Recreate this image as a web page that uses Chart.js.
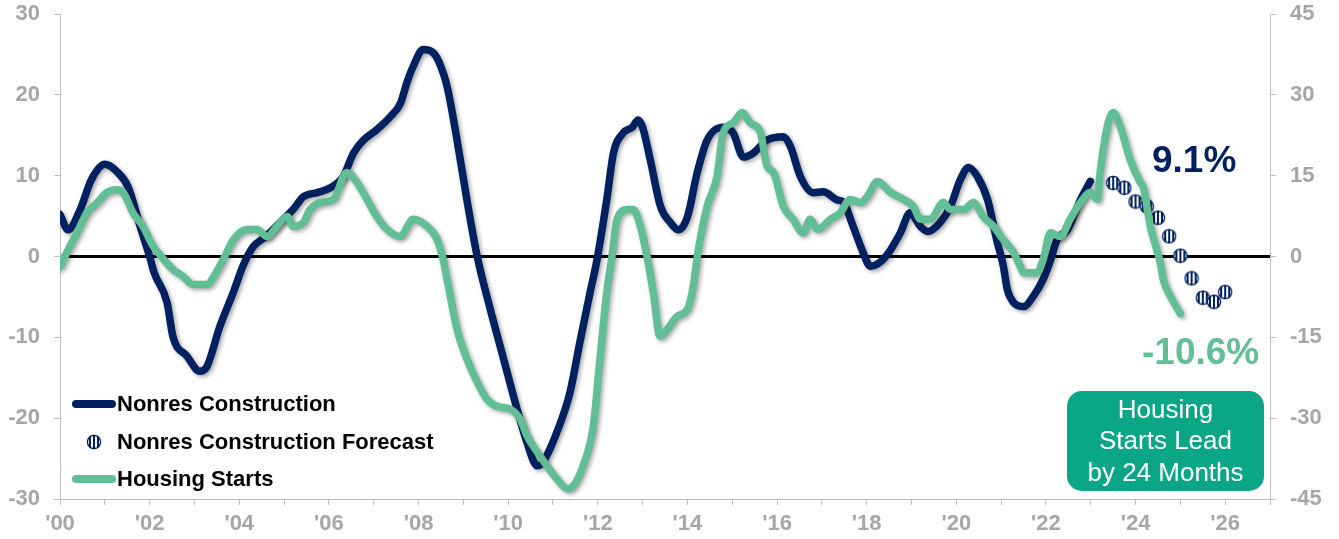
<!DOCTYPE html>
<html>
<head>
<meta charset="utf-8">
<title>Nonres Construction vs Housing Starts</title>
<script src="https://cdn.jsdelivr.net/npm/chart.js@4.4.1/dist/chart.umd.min.js"></script>
<style>
  body { margin: 0; background: #fff; font-family: "Liberation Sans", Arial, sans-serif; }
  #wrap { position: relative; width: 1339px; height: 539px; }
  #chart { position: absolute; left: 0; top: 0; }
  .lg-row { position: absolute; height: 30px; display: flex; align-items: center;
            white-space: nowrap; font-weight: bold; font-size: 22px; color: #000; }
  .lg-line { display: inline-block; width: 44px; height: 8px; border-radius: 4px; margin-right: 1px; }
  .note { position: absolute; font-weight: bold; font-size: 37px; line-height: 40px; white-space: nowrap; }
  .box { position: absolute; left: 1067px; top: 391px; width: 197px; height: 100px; border-radius: 15px;
         background: #0ba685; color: #fff; font-size: 26px; line-height: 31.5px; text-align: center;
         display: flex; align-items: center; justify-content: center; }
</style>
</head>
<body>
<div id="wrap">
  <canvas id="chart" width="1339" height="539"></canvas>

  <div class="lg-row" style="left:72px; top:389px;"><span class="lg-line" style="background:#00215f"></span>Nonres Construction</div>
  <div class="lg-row" style="left:86px; top:427px;"><canvas id="lgDot" width="16" height="16" style="margin-right:15px"></canvas>Nonres Construction Forecast</div>
  <div class="lg-row" style="left:72px; top:464px;"><span class="lg-line" style="background:#62be94"></span>Housing Starts</div>

  <div class="note" style="left:1152px; top:140px; color:#00215f;">9.1%</div>
  <div class="note" style="left:1142px; top:332px; color:#62be94;">-10.6%</div>
  <div class="box"><div>Housing<br>Starts Lead<br>by 24 Months</div></div>
</div>

<script>
// colours
const NAVY = "#00215f";
const GREEN = "#62be94";
const AXIS_GREY = "#bfbfbf";
const TICK_TEXT = "#a6a6a6";

// ---- data (decimal years, % y/y) ----
// Nonres Construction (left axis)
const nonresYears = [
  2000.0, 2000.18, 2000.45, 2000.7, 2001.0, 2001.27, 2001.52, 2001.79, 2002.0, 2002.1,
  2002.39, 2002.52, 2002.83, 2003.12, 2003.28, 2003.57, 2003.87, 2004.08, 2004.31, 2004.6,
  2004.98, 2005.2, 2005.43, 2005.74, 2006.03, 2006.32, 2006.55, 2006.77, 2007.07, 2007.37,
  2007.6, 2007.74, 2007.88, 2008.1, 2008.33, 2008.5, 2008.64, 2008.86, 2009.08, 2009.31,
  2009.6, 2009.9, 2010.2, 2010.42, 2010.65, 2010.78, 2011.09, 2011.38, 2011.6, 2011.83,
  2011.98, 2012.2, 2012.35, 2012.57, 2012.77, 2012.9, 2013.0, 2013.17, 2013.4, 2013.62,
  2013.8, 2014.0, 2014.22, 2014.44, 2014.8, 2015.02, 2015.25, 2015.47, 2015.78, 2016.14,
  2016.3, 2016.52, 2016.81, 2017.03, 2017.34, 2017.48, 2017.7, 2017.92, 2018.08, 2018.3,
  2018.53, 2018.75, 2018.97, 2019.2, 2019.37, 2019.64, 2019.87, 2020.09, 2020.27, 2020.47,
  2020.7, 2020.9, 2021.05, 2021.14, 2021.28, 2021.5, 2021.72, 2021.94, 2022.1, 2022.25,
  2022.48, 2022.77, 2022.99
];
const nonresValues = [
  5.2, 3.3, 5.8, 9.5, 11.4, 10.5, 8.6, 3.7, 0.0, -2.0,
  -5.7, -9.9, -12.3, -14.2, -13.6, -8.6, -4.4, -1.2, 1.2, 2.5,
  4.6, 5.8, 7.4, 7.9, 8.5, 9.9, 12.8, 14.4, 15.7, 17.3,
  19.0, 21.5, 23.5, 25.6, 25.2, 23.5, 21.0, 14.4, 7.0, 0.0,
  -6.5, -12.7, -18.9, -23.0, -25.9, -25.4, -21.7, -16.8, -10.6, -4.4,
  -0.5, 7.0, 12.8, 15.3, 16.0, 16.9, 16.0, 12.0, 6.2, 4.2,
  3.3, 4.9, 10.4, 14.4, 16.0, 15.3, 12.3, 12.8, 14.4, 14.8,
  13.6, 9.9, 7.9, 8.0, 7.0, 6.7, 3.7, 0.5, -1.2, -0.7,
  0.8, 2.9, 5.4, 3.7, 3.1, 4.2, 6.2, 9.5, 11.0, 9.9,
  7.0, 2.1, -1.2, -4.1, -5.7, -6.2, -4.9, -2.8, -0.5, 2.1,
  3.3, 7.0, 9.3
];

// Nonres Construction Forecast (left axis, quarterly)
const forecastYears = [2023.5, 2023.75, 2024.0, 2024.25, 2024.5, 2024.75, 2025.0, 2025.25, 2025.5, 2025.75, 2026.0];
const forecastValues = [9.1, 8.5, 6.8, 6.2, 4.8, 2.5, 0.1, -2.7, -5.1, -5.6, -4.4];

// Housing Starts (right axis)
const housingYears = [
  2000.0, 2000.15, 2000.38, 2000.6, 2000.83, 2001.05, 2001.27, 2001.41, 2001.63, 2001.85,
  2002.08, 2002.3, 2002.52, 2002.75, 2002.97, 2003.28, 2003.46, 2003.64, 2003.87, 2004.17,
  2004.4, 2004.62, 2004.84, 2005.07, 2005.2, 2005.43, 2005.58, 2005.8, 2006.1, 2006.4,
  2006.63, 2006.85, 2007.07, 2007.3, 2007.59, 2007.88, 2008.19, 2008.42, 2008.55, 2008.64,
  2008.86, 2009.08, 2009.31, 2009.53, 2009.75, 2010.04, 2010.27, 2010.42, 2010.65, 2010.87,
  2011.09, 2011.32, 2011.45, 2011.67, 2011.9, 2012.05, 2012.2, 2012.32, 2012.43, 2012.66,
  2012.79, 2012.95, 2013.1, 2013.24, 2013.39, 2013.55, 2013.77, 2014.0, 2014.13, 2014.22,
  2014.44, 2014.66, 2014.8, 2015.02, 2015.22, 2015.4, 2015.63, 2015.78, 2015.92, 2016.14,
  2016.36, 2016.58, 2016.74, 2016.9, 2017.19, 2017.41, 2017.63, 2017.86, 2018.01, 2018.24,
  2018.53, 2018.82, 2019.04, 2019.2, 2019.42, 2019.71, 2019.87, 2020.16, 2020.38, 2020.6,
  2020.83, 2021.05, 2021.28, 2021.43, 2021.5, 2021.8, 2021.94, 2022.1, 2022.32, 2022.54,
  2022.77, 2022.99, 2023.15, 2023.21, 2023.37, 2023.5, 2023.66, 2023.88, 2024.11, 2024.17,
  2024.33, 2024.55, 2024.62, 2024.78, 2025.0
];
const housingValues = [
  -1.9, 0.7, 4.4, 8.1, 10.0, 11.9, 12.4, 11.9, 8.1, 5.6,
  1.9, -0.4, -2.4, -3.7, -5.2, -5.2, -3.3, -0.6, 3.1, 5.0,
  5.0, 3.7, 5.6, 7.4, 5.6, 6.3, 8.7, 10.0, 10.6, 15.6,
  13.7, 10.6, 7.4, 5.0, 3.7, 6.9, 5.6, 3.1, -0.6, -4.3,
  -13.5, -19.0, -23.3, -26.5, -27.8, -28.3, -30.2, -33.3, -36.3, -38.9,
  -41.3, -43.1, -42.6, -38.9, -31.5, -19.0, -6.7, 0.2, 6.9, 8.7,
  8.7, 5.6, 0.0, -6.7, -14.8, -13.5, -11.1, -9.8, -5.6, 0.0,
  9.3, 14.8, 23.0, 24.8, 26.7, 24.8, 23.0, 16.7, 15.6, 9.3,
  6.9, 4.4, 6.9, 5.0, 6.9, 8.1, 10.6, 10.0, 11.1, 13.9,
  11.9, 10.6, 9.3, 6.9, 6.9, 10.0, 8.7, 8.7, 10.0, 7.4,
  5.6, 3.1, 0.7, -1.9, -3.0, -3.0, -0.5, 4.4, 3.7, 6.9,
  10.0, 11.9, 10.6, 15.6, 24.1, 26.7, 24.1, 18.0, 13.7, 13.0,
  5.6, -1.1, -4.3, -7.4, -10.6
];

// axis ticks
const xTickYears = [2000, 2002, 2004, 2006, 2008, 2010, 2012, 2014, 2016, 2018, 2020, 2022, 2024, 2026];
const leftTicks = [-30, -20, -10, 0, 10, 20, 30];
const rightTicks = [-45, -30, -15, 0, 15, 30, 45];

function toPoints(xs, ys) {
  return xs.map((x, i) => ({ x: x, y: ys[i] }));
}

// striped forecast marker (white disc, navy vertical stripes)
function makeDot() {
  const c = document.createElement("canvas");
  c.width = 16; c.height = 16;
  const g = c.getContext("2d");
  g.beginPath(); g.arc(8, 8, 7.2, 0, Math.PI * 2);
  g.fillStyle = "#fff"; g.fill();
  g.save(); g.clip();
  g.fillStyle = NAVY;
  [3, 7, 11].forEach(x => g.fillRect(x, 0, 2, 16));
  g.restore();
  g.beginPath(); g.arc(8, 8, 6.6, 0, Math.PI * 2);
  g.strokeStyle = NAVY; g.lineWidth = 1.3; g.stroke();
  return c;
}

const dotImg = makeDot();
// legend marker
document.getElementById("lgDot").getContext("2d").drawImage(makeDot(), 0, 0);

// soft drop shadow under the two line series
const shadowPlugin = {
  id: "lineShadow",
  beforeDatasetDraw(chart, args) {
    const ds = chart.data.datasets[args.index];
    if (!ds.shadow) return;
    const ctx = chart.ctx;
    ctx.save();
    ctx.shadowColor = "rgba(0,0,0,0.35)";
    ctx.shadowBlur = 4;
    ctx.shadowOffsetX = 2;
    ctx.shadowOffsetY = 2;
  },
  afterDatasetDraw(chart, args) {
    const ds = chart.data.datasets[args.index];
    if (!ds.shadow) return;
    chart.ctx.restore();
  }
};

const tickFont = { family: "Liberation Sans", size: 22, weight: "bold" };

// fixed axis boxes so the plot area sits where the original one does
function fitY(width) {
  return s => { s.width = width; s.paddingTop = 0; s.paddingBottom = 0; };
}

new Chart(document.getElementById("chart"), {
  type: "line",
  data: {
    datasets: [
      {
        label: "Housing Starts",
        data: toPoints(housingYears, housingValues),
        yAxisID: "yR",
        borderColor: GREEN,
        borderWidth: 7.5,
        pointRadius: 0,
        cubicInterpolationMode: "monotone",
        borderCapStyle: "round",
        borderJoinStyle: "round",
        shadow: true,
        order: 0
      },
      {
        label: "Nonres Construction Forecast",
        data: toPoints(forecastYears, forecastValues),
        yAxisID: "y",
        showLine: false,
        pointStyle: dotImg,
        pointRadius: 7,
        order: 1
      },
      {
        label: "Nonres Construction",
        data: toPoints(nonresYears, nonresValues),
        yAxisID: "y",
        borderColor: NAVY,
        borderWidth: 7.5,
        pointRadius: 0,
        cubicInterpolationMode: "monotone",
        borderCapStyle: "round",
        borderJoinStyle: "round",
        shadow: true,
        order: 2
      }
    ]
  },
  options: {
    responsive: false,
    animation: false,
    layout: { padding: { top: 14, right: 0, left: 0, bottom: 0 } },
    plugins: {
      legend: { display: false },
      tooltip: { enabled: false }
    },
    scales: {
      x: {
        type: "linear",
        min: 2000,
        max: 2027,
        afterFit: s => { s.height = 40; },
        afterBuildTicks: s => {
          const t = [];
          for (let yr = 2000; yr <= 2027; yr++) t.push({ value: yr });
          s.ticks = t;
        },
        ticks: {
          autoSkip: false,
          maxRotation: 0,
          padding: 6,
          color: TICK_TEXT,
          font: tickFont,
          callback: v => xTickYears.includes(v) ? "'" + String(v % 100).padStart(2, "0") : ""
        },
        grid: { drawOnChartArea: false, color: AXIS_GREY, tickLength: 6, tickColor: AXIS_GREY },
        border: { display: true, color: AXIS_GREY, width: 1 }
      },
      y: {
        position: "left",
        min: -30,
        max: 30,
        afterFit: fitY(60),
        afterBuildTicks: s => { s.ticks = leftTicks.map(v => ({ value: v })); },
        ticks: { color: TICK_TEXT, font: tickFont, padding: 14 },
        grid: {
          drawOnChartArea: true,
          color: c => (c.tick && c.tick.value === 0) ? "#000" : "rgba(0,0,0,0)",
          lineWidth: c => (c.tick && c.tick.value === 0) ? 3 : 1,
          tickLength: 6,
          tickColor: AXIS_GREY,
          tickWidth: 1
        },
        border: { display: true, color: AXIS_GREY, width: 1 }
      },
      yR: {
        position: "right",
        min: -45,
        max: 45,
        afterFit: fitY(69),
        afterBuildTicks: s => { s.ticks = rightTicks.map(v => ({ value: v })); },
        ticks: { color: TICK_TEXT, font: tickFont, padding: 14 },
        grid: { drawOnChartArea: false, tickLength: 6, tickColor: AXIS_GREY, tickWidth: 1 },
        border: { display: true, color: AXIS_GREY, width: 1 }
      }
    }
  },
  plugins: [shadowPlugin]
});
</script>
</body>
</html>
